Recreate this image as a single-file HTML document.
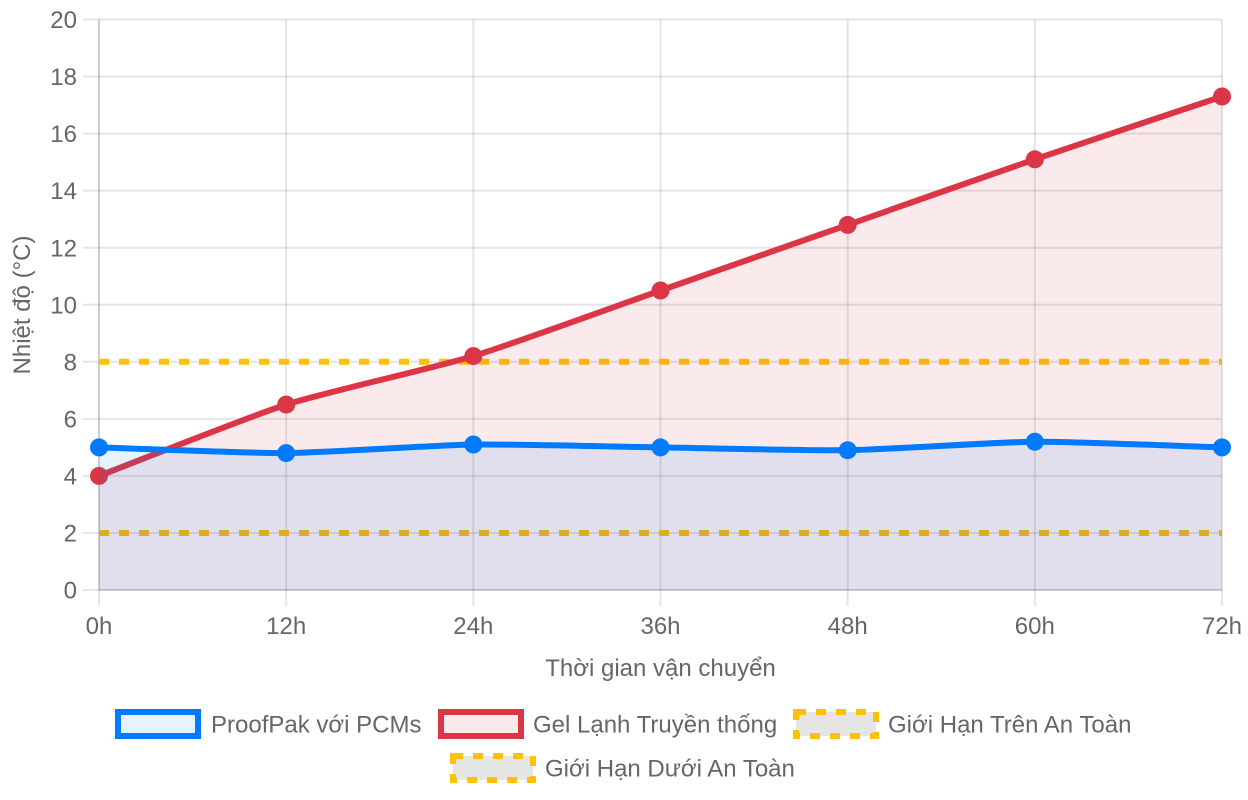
<!DOCTYPE html>
<html>
<head>
<meta charset="utf-8">
<style>
html,body{margin:0;padding:0;background:#fff;}
svg{display:block;}
text{font-family:"Liberation Sans","DejaVu Sans",sans-serif;font-size:24px;fill:#666;}
</style>
</head>
<body>
<svg width="1248" height="800" viewBox="0 0 1248 800" xmlns="http://www.w3.org/2000/svg">
  <g stroke="rgba(0,0,0,0.1)" stroke-width="2">
    <line x1="83" y1="590" x2="1222" y2="590"/>
    <line x1="83" y1="532.95" x2="1222" y2="532.95"/>
    <line x1="83" y1="475.9" x2="1222" y2="475.9"/>
    <line x1="83" y1="418.85" x2="1222" y2="418.85"/>
    <line x1="83" y1="361.8" x2="1222" y2="361.8"/>
    <line x1="83" y1="304.75" x2="1222" y2="304.75"/>
    <line x1="83" y1="247.7" x2="1222" y2="247.7"/>
    <line x1="83" y1="190.65" x2="1222" y2="190.65"/>
    <line x1="83" y1="133.6" x2="1222" y2="133.6"/>
    <line x1="83" y1="76.55" x2="1222" y2="76.55"/>
    <line x1="83" y1="19.5" x2="1222" y2="19.5"/>
    <line x1="99" y1="19.5" x2="99" y2="606"/>
    <line x1="286.17" y1="19.5" x2="286.17" y2="606"/>
    <line x1="473.33" y1="19.5" x2="473.33" y2="606"/>
    <line x1="660.5" y1="19.5" x2="660.5" y2="606"/>
    <line x1="847.67" y1="19.5" x2="847.67" y2="606"/>
    <line x1="1034.83" y1="19.5" x2="1034.83" y2="606"/>
    <line x1="1222" y1="19.5" x2="1222" y2="606"/>
    <line x1="99" y1="19.5" x2="99" y2="590"/>
    <line x1="99" y1="590" x2="1222" y2="590"/>
  </g>

  <line x1="99" y1="532.95" x2="1222" y2="532.95" stroke="#ffc107" stroke-width="6" stroke-dasharray="10,10"/>
  <line x1="99" y1="361.8" x2="1222" y2="361.8" stroke="#ffc107" stroke-width="6" stroke-dasharray="10,10"/>

  <path d="M99,475.9 C136.43,461.64 248.08,416.79 286.17,404.6 C322.95,392.83 436.38,367.37 473.33,356.1 C511.24,344.54 623.07,303.62 660.5,290.5 C697.93,277.38 810.24,238.02 847.67,224.9 C885.1,211.78 997.31,172.17 1034.83,159.3 C1072.18,146.49 1184.57,109.06 1222,96.5 L1222,590 L99,590 Z" fill="rgba(220,53,69,0.1)" stroke="none"/>
  <path d="M99,475.9 C136.43,461.64 248.08,416.79 286.17,404.6 C322.95,392.83 436.38,367.37 473.33,356.1 C511.24,344.54 623.07,303.62 660.5,290.5 C697.93,277.38 810.24,238.02 847.67,224.9 C885.1,211.78 997.31,172.17 1034.83,159.3 C1072.18,146.49 1184.57,109.06 1222,96.5" fill="none" stroke="#dc3545" stroke-width="6" stroke-linejoin="round"/>
  <g fill="#dc3545">
    <circle cx="99" cy="475.9" r="9"/>
    <circle cx="286.17" cy="404.6" r="9"/>
    <circle cx="473.33" cy="356.1" r="9"/>
    <circle cx="660.5" cy="290.5" r="9"/>
    <circle cx="847.67" cy="224.9" r="9"/>
    <circle cx="1034.83" cy="159.3" r="9"/>
    <circle cx="1222" cy="96.5" r="9"/>
  </g>

  <path d="M99,447.4 C136.43,448.54 248.74,453.39 286.17,453.1 C323.6,452.81 435.9,445.07 473.33,444.5 C510.76,443.93 623.07,446.83 660.5,447.4 C697.93,447.97 810.24,450.77 847.67,450.2 C885.1,449.63 997.4,441.98 1034.83,441.7 C1072.26,441.42 1184.57,446.26 1222,447.4 L1222,590 L99,590 Z" fill="rgba(0,123,255,0.1)" stroke="none"/>
  <path d="M99,447.4 C136.43,448.54 248.74,453.39 286.17,453.1 C323.6,452.81 435.9,445.07 473.33,444.5 C510.76,443.93 623.07,446.83 660.5,447.4 C697.93,447.97 810.24,450.77 847.67,450.2 C885.1,449.63 997.4,441.98 1034.83,441.7 C1072.26,441.42 1184.57,446.26 1222,447.4" fill="none" stroke="#007bff" stroke-width="6" stroke-linejoin="round"/>
  <g fill="#007bff">
    <circle cx="99" cy="447.4" r="9"/>
    <circle cx="286.17" cy="453.1" r="9"/>
    <circle cx="473.33" cy="444.5" r="9"/>
    <circle cx="660.5" cy="447.4" r="9"/>
    <circle cx="847.67" cy="450.2" r="9"/>
    <circle cx="1034.83" cy="441.7" r="9"/>
    <circle cx="1222" cy="447.4" r="9"/>
  </g>

  <g text-anchor="end">
    <text x="77" y="598.5">0</text>
    <text x="77" y="541.5">2</text>
    <text x="77" y="484.5">4</text>
    <text x="77" y="427.4">6</text>
    <text x="77" y="370.4">8</text>
    <text x="77" y="313.3">10</text>
    <text x="77" y="256.3">12</text>
    <text x="77" y="199.2">14</text>
    <text x="77" y="142.2">16</text>
    <text x="77" y="85.1">18</text>
    <text x="77" y="28.1">20</text>
  </g>

  <g text-anchor="middle">
    <text x="99" y="634">0h</text>
    <text x="286.17" y="634">12h</text>
    <text x="473.33" y="634">24h</text>
    <text x="660.5" y="634">36h</text>
    <text x="847.67" y="634">48h</text>
    <text x="1034.83" y="634">60h</text>
    <text x="1222" y="634">72h</text>
  </g>

  <text x="660.5" y="676" text-anchor="middle">Thời gian vận chuyển</text>
  <text x="30" y="305" text-anchor="middle" transform="rotate(-90 30 305)">Nhiệt độ (°C)</text>

  <rect x="118" y="712" width="80" height="24" fill="rgba(0,123,255,0.1)" stroke="#007bff" stroke-width="6"/>
  <text x="211" y="732.5">ProofPak với PCMs</text>
  <rect x="441" y="712" width="80" height="24" fill="rgba(220,53,69,0.1)" stroke="#dc3545" stroke-width="6"/>
  <text x="533" y="732.5">Gel Lạnh Truyền thống</text>
  <rect x="796" y="712" width="80" height="24" fill="rgba(0,0,0,0.1)" stroke="#ffc107" stroke-width="6" stroke-dasharray="10,10"/>
  <text x="888" y="732.5">Giới Hạn Trên An Toàn</text>
  <rect x="453" y="756" width="80" height="24" fill="rgba(0,0,0,0.1)" stroke="#ffc107" stroke-width="6" stroke-dasharray="10,10"/>
  <text x="545" y="776.5">Giới Hạn Dưới An Toàn</text>
</svg>
</body>
</html>
